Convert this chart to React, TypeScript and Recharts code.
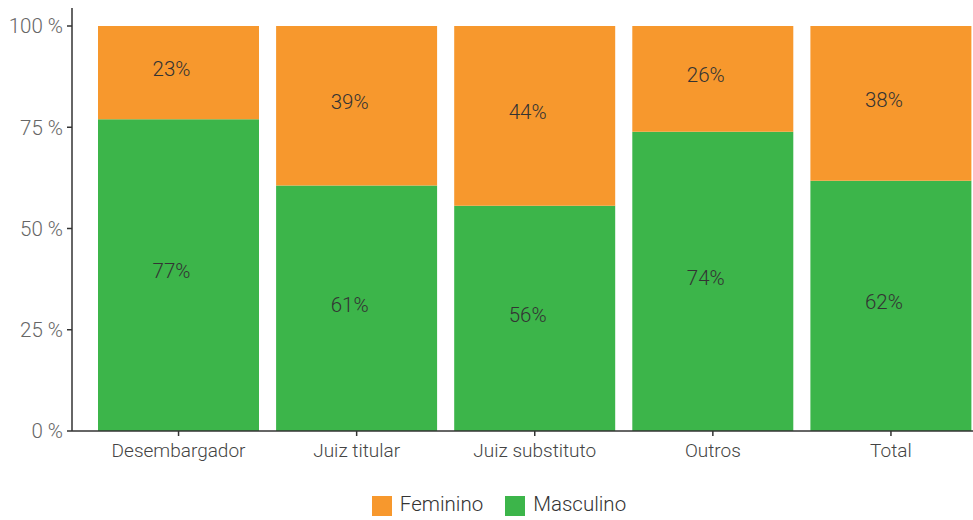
import React from 'react';
import { BarChart, Bar, XAxis, YAxis, Legend, LabelList } from 'recharts';

const categorias = ['Desembargador', 'Juiz titular', 'Juiz substituto', 'Outros', 'Total'];
const masculino = [77.0, 60.6, 55.6, 73.9, 61.8];
const feminino = [23.0, 39.4, 44.4, 26.1, 38.2];
const yTicks = [0, 25, 50, 75, 100];

const data = categorias.map((c, i) => ({ name: c, masculino: masculino[i], feminino: feminino[i] }));

const font = 'Roboto, "Noto Sans", sans-serif';
const pct = (v: number) => `${Math.round(v)}%`;

export default function App() {
  return (
    <div style={{ position: 'absolute', left: 0, top: 0, width: 973, height: 520, overflow: 'hidden', background: '#fff' }}>
      <BarChart
        width={990}
        height={520}
        data={data}
        margin={{ top: 8, right: 10, left: 0, bottom: 0 }}
        barCategoryGap={8.5}
        style={{ fontFamily: font }}
      >
        <XAxis
          dataKey="name"
          height={49}
          padding={{ left: 17.5, right: 0 }}
          tickSize={5}
          tickMargin={8}
          stroke="#333"
          strokeWidth={1.5}
          tick={{ fill: '#444', fontSize: 19, fontWeight: 300 }}
        />
        <YAxis
          width={72}
          domain={[0, 100]}
          ticks={yTicks}
          padding={{ top: 18 }}
          tickSize={5}
          tickMargin={4}
          stroke="#333"
          strokeWidth={1.5}
          tickFormatter={(v) => `${v} %`}
          tick={{ fill: '#666', fontSize: 20.5, fontWeight: 300 }}
        />
        <Legend
          verticalAlign="bottom"
          height={40}
          iconType="square"
          iconSize={20}
          wrapperStyle={{ top: 492, left: 20, fontSize: 20.5, fontWeight: 300 }}
          formatter={(v) => <span style={{ color: '#333', marginLeft: 4, marginRight: 12 }}>{v}</span>}
        />
        <Bar dataKey="masculino" name="Masculino" stackId="a" fill="#3CB54A" isAnimationActive={false}>
          <LabelList dataKey="masculino" position="center" formatter={pct} dx={-7} dy={-4} style={{ fill: '#333', fontSize: 20.5, fontWeight: 300 }} />
        </Bar>
        <Bar dataKey="feminino" name="Feminino" stackId="a" fill="#F7982D" isAnimationActive={false}>
          <LabelList dataKey="feminino" position="center" formatter={pct} dx={-7} dy={-4} style={{ fill: '#333', fontSize: 20.5, fontWeight: 300 }} />
        </Bar>
      </BarChart>
    </div>
  );
}
